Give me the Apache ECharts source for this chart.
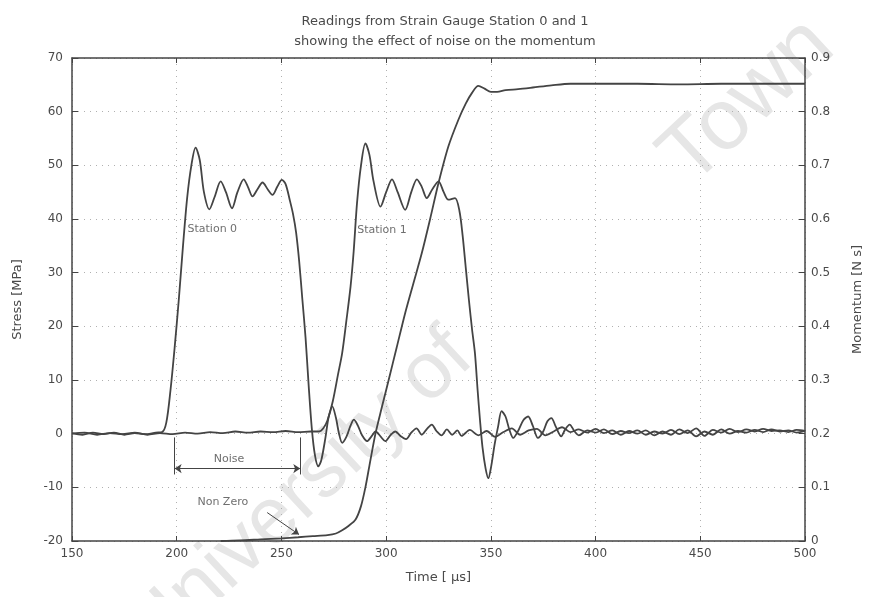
<!DOCTYPE html>
<html>
<head>
<meta charset="utf-8">
<script src="https://cdn.jsdelivr.net/npm/echarts@6/dist/echarts.min.js"></script>
<style>
  html, body { margin: 0; padding: 0; background: #fff; }
  #chart { width: 872px; height: 597px; }
</style>
</head>
<body>
<div id="chart"></div>
<script>
// Time axis in microseconds, stress in MPa, momentum in N s
var timeTicks = [150, 200, 250, 300, 350, 400, 450, 500];
var stressTicks = [-20, -10, 0, 10, 20, 30, 40, 50, 60, 70];
var momentumTicks = [0, 0.1, 0.2, 0.3, 0.4, 0.5, 0.6, 0.7, 0.8, 0.9];

var station0Time = [
  150, 155, 160, 165, 170, 175, 180, 185, 190, 193, 195, 197, 199, 201, 203, 205, 207, 209, 211, 213,
  215.6, 218, 221, 223.5, 226.4, 229, 232, 234, 236.2, 238.5, 241, 243.5, 245.7, 248, 250.2, 252, 254,
  255.5, 257, 258.5, 260, 261.5, 263, 264.5, 266, 267.6, 269, 271, 272.5, 274.3, 276, 277.5, 279, 281,
  283, 284.6, 286.5, 288.5, 290.9, 293, 295, 297.5, 299.6, 302, 304.4, 307, 309.5, 312, 314.5, 317,
  319.5, 321.8, 324, 326.5, 329, 331.5, 334, 336, 340, 344, 348, 352, 356, 360, 364, 368, 372, 376,
  380, 384, 388, 392, 396, 400, 404, 408, 412, 416, 420, 424, 428, 432, 436, 440, 444, 448, 452, 456,
  460, 464, 468, 472, 476, 480, 484, 488, 492, 496, 500
];
var station0Stress = [
  0.1, -0.2, 0.2, -0.1, 0.2, -0.2, 0.1, -0.1, 0.2, 0.3, 2, 8, 16, 25, 35, 44, 50, 53.3, 51, 45,
  41.8, 44, 47, 45, 42, 45, 47.4, 46, 44.2, 45.5, 46.8, 45.5, 44.5, 46, 47.3, 46.5, 43.5,
  41, 37.5, 32, 25, 18, 9, 1, -4, -6.1, -5, -0.8, 3, 5.1, 3, 0, -1.7, -0.6,
  1.5, 2.6, 1.5, -0.3, -1.4, -0.5, 0.4, -0.6, -1.4, -0.3, 0.4, -0.5, -1.0, 0.2, 1.0, -0.2,
  0.9, 1.7, 0.5, -0.3, 0.8, -0.2, 0.6, -0.4, 0.7, -0.3, 0.5, -0.6, 0.3, 1.0, -0.2, 0.6, 0.9, -0.3,
  0.4, 1.2, 0.3, 0.8, 0.2, 0.9, 0.1, 0.6, -0.2, 0.5, 0.0, 0.6, -0.3, 0.4, -0.2, 0.8, 0.1, 1.0, -0.4, 0.7,
  0.2, 0.9, 0.3, 0.8, 0.4, 0.9, 0.5, 0.6, 0.3, 0.7, 0.5
];

var station1Time = [
  150, 156, 162, 168, 174, 180, 186, 192, 198, 204, 210, 216, 222, 228, 234, 240, 246, 252, 258, 264,
  268, 270, 272, 274.5, 277, 279, 281, 283, 284.5, 286.1, 288, 290.1, 292, 294, 297.3, 300, 302.8,
  305.5, 309.1, 312, 314.7, 317, 319.4, 322, 325, 327.5, 329.7, 332.9, 335, 336.5, 338, 339.5, 341,
  342.4, 343.7, 344.8, 346, 347.5, 348.8, 350.2, 351.8, 353.5, 355.1, 357, 358.8, 360.7, 363, 365.5,
  367.8, 370, 372.5, 375, 377, 378.9, 381, 383.6, 385.5, 387.6, 390, 392, 396, 400, 404, 408, 412,
  416, 420, 424, 428, 432, 436, 440, 444, 448, 452, 456, 460, 464, 468, 472, 476, 480, 484, 488, 492,
  496, 500
];
var station1Stress = [
  0.0, 0.2, -0.2, 0.1, -0.1, 0.2, -0.2, 0.1, -0.1, 0.2, 0.0, 0.3, 0.1, 0.4, 0.2, 0.4, 0.3, 0.5, 0.3, 0.4,
  0.4, 1, 2.5, 6, 11, 15, 21, 27.4, 34, 43, 50, 54.1, 52, 47, 42.3, 45, 47.4,
  45, 41.7, 45, 47.4, 46, 43.9, 45.5, 47, 45, 43.6, 43.9, 41.5, 37, 31, 25, 19.5,
  15, 8, 2.6, -2.5, -6.5, -8.3, -6, -2, 1.4, 4.2, 3.2, 0.8, -0.8, 0.5, 2.5,
  3.2, 1.5, -0.8, 0.4, 2.3, 2.9, 1.3, -0.5, 0.8, 1.7, 0.4, -0.3, 0.6, 0.2, 0.8, -0.1, 0.5,
  0.1, 0.6, -0.2, 0.4, 0.0, 0.7, -0.1, 0.6, -0.5, 0.4, -0.2, 0.8, 0.0, 0.5, 0.2, 0.7, 0.3, 0.8, 0.4, 0.6,
  0.2, 0.5
];

var momentumTime = [
  221, 230, 240, 250, 258, 265, 272, 276, 279, 282, 285.4, 288, 290.1, 292, 294.9, 298, 301.2, 305,
  309.1, 313, 317, 321, 325, 329.7, 334.5, 338, 341, 344, 347, 350, 353, 357, 363, 370, 378.9, 388,
  400, 420, 440, 460, 480, 500
];
var momentumValue = [
  0.0, 0.001, 0.003, 0.005, 0.007, 0.009, 0.011, 0.014, 0.02, 0.028, 0.04, 0.065, 0.10, 0.14, 0.20,
  0.25, 0.30, 0.36, 0.425, 0.48, 0.536, 0.60, 0.667, 0.735, 0.785, 0.815, 0.835, 0.848, 0.843, 0.837,
  0.837, 0.840, 0.842, 0.845, 0.849, 0.852, 0.852, 0.852, 0.851, 0.852, 0.852, 0.852
];

// Text notes placed in data units
var noteNames = ['Station 0', 'Station 1', 'Noise', 'Non Zero'];
var noteTime = [217, 298, 225, 222];
var noteStress = [38.2, 38, -4.7, -12.8];

function zip(xs, ys) {
  return xs.map(function (x, i) { return [x, ys[i]]; });
}

var ink = '#444444';
var textColor = '#4a4a4a';
var font = 'DejaVu Sans';
var gridDots = { color: '#b0b0b0', width: 1, type: [1, 5] };

var chart = echarts.init(document.getElementById('chart'), null, { renderer: 'canvas' });

chart.setOption({
  animation: false,
  backgroundColor: '#ffffff',
  textStyle: { fontFamily: font },
  title: {
    text: 'Readings from Strain Gauge Station 0 and 1\nshowing the effect of noise on the momentum',
    left: 440,
    top: 7,
    textAlign: 'center',
    textStyle: { fontSize: 13, fontWeight: 'normal', color: textColor, lineHeight: 20, fontFamily: font }
  },
  graphic: [
    {
      type: 'text', z: -10, silent: true,
      x: 300, y: 495, rotation: 0.75,
      style: { text: 'University of', fontSize: 80, fontFamily: 'Liberation Sans', fill: '#e6e6e6',
               textAlign: 'center', textVerticalAlign: 'middle' }
    },
    {
      type: 'text', z: -10, silent: true,
      x: 748, y: 102, rotation: 0.75,
      style: { text: 'Town', fontSize: 86, fontFamily: 'Liberation Sans', fill: '#e6e6e6',
               textAlign: 'center', textVerticalAlign: 'middle' }
    }
  ],
  grid: { left: 72, right: 66, top: 58, bottom: 56, containLabel: false },
  xAxis: [
    {
      type: 'value', min: timeTicks[0], max: timeTicks[timeTicks.length - 1], interval: 50,
      name: 'Time [ \u00b5s]', nameLocation: 'middle', nameGap: 30,
      nameTextStyle: { fontSize: 13, color: textColor },
      axisLine: { onZero: false, lineStyle: { color: ink, width: 1.5 } },
      axisTick: { inside: true, length: 5, lineStyle: { color: ink } },
      axisLabel: { fontSize: 12, color: textColor, margin: 7 },
      splitLine: { show: true, lineStyle: gridDots }
    },
    {
      type: 'value', position: 'top', min: timeTicks[0], max: timeTicks[timeTicks.length - 1], interval: 50,
      axisLine: { onZero: false, lineStyle: { color: ink, width: 1.5 } },
      axisTick: { inside: true, length: 5, lineStyle: { color: ink } },
      axisLabel: { show: false },
      splitLine: { show: false }
    }
  ],
  yAxis: [
    {
      type: 'value', min: stressTicks[0], max: stressTicks[stressTicks.length - 1], interval: 10,
      name: 'Stress [MPa]', nameLocation: 'middle', nameGap: 48, nameRotate: 90,
      nameTextStyle: { fontSize: 13, color: textColor },
      axisLine: { show: true, onZero: false, lineStyle: { color: ink, width: 1.5 } },
      axisTick: { show: true, inside: true, length: 6, lineStyle: { color: ink } },
      axisLabel: { fontSize: 12, color: textColor, margin: 9 },
      splitLine: { show: true, lineStyle: gridDots }
    },
    {
      type: 'value', position: 'right', min: momentumTicks[0], max: momentumTicks[momentumTicks.length - 1], interval: 0.1,
      name: 'Momentum [N s]', nameLocation: 'middle', nameGap: 46, nameRotate: 90,
      nameTextStyle: { fontSize: 13, color: textColor },
      axisLine: { show: true, onZero: false, lineStyle: { color: ink, width: 1.5 } },
      axisTick: { show: true, inside: true, length: 6, lineStyle: { color: ink } },
      axisLabel: { fontSize: 12, color: textColor, margin: 6 },
      splitLine: { show: false }
    }
  ],
  series: [
    {
      name: 'Station 0', type: 'line', xAxisIndex: 0, yAxisIndex: 0,
      data: zip(station0Time, station0Stress),
      showSymbol: false, smooth: 0.3,
      lineStyle: { color: ink, width: 1.8 },
      markLine: {
        silent: true, animation: false,
        label: { show: false },
        lineStyle: { color: ink, width: 1, type: 'solid' },
        data: [
          [{ coord: [199, -0.7], symbol: 'none' }, { coord: [199, -7.6], symbol: 'none' }],
          [{ coord: [259, -0.7], symbol: 'none' }, { coord: [259, -7.6], symbol: 'none' }],
          [{ coord: [199, -6.5], symbol: 'arrow', symbolSize: 7 }, { coord: [259, -6.5], symbol: 'arrow', symbolSize: 7 }],
          [{ coord: [243.2, -14.7], symbol: 'none' }, { coord: [258.4, -18.8], symbol: 'arrow', symbolSize: 7 }]
        ]
      }
    },
    {
      name: 'Station 1', type: 'line', xAxisIndex: 0, yAxisIndex: 0,
      data: zip(station1Time, station1Stress),
      showSymbol: false, smooth: 0.3,
      lineStyle: { color: ink, width: 1.8 }
    },
    {
      name: 'Momentum', type: 'line', xAxisIndex: 0, yAxisIndex: 1,
      data: zip(momentumTime, momentumValue),
      showSymbol: false, smooth: 0.3,
      lineStyle: { color: ink, width: 1.8 }
    },
    {
      name: 'notes', type: 'scatter', xAxisIndex: 0, yAxisIndex: 0,
      symbolSize: 0, silent: true,
      data: noteNames.map(function (n, i) { return { name: n, value: [noteTime[i], noteStress[i]] }; }),
      label: {
        show: true, position: 'inside', formatter: '{b}',
        fontSize: 11, color: textColor, fontFamily: font
      }
    }
  ]
});
</script>
</body>
</html>
